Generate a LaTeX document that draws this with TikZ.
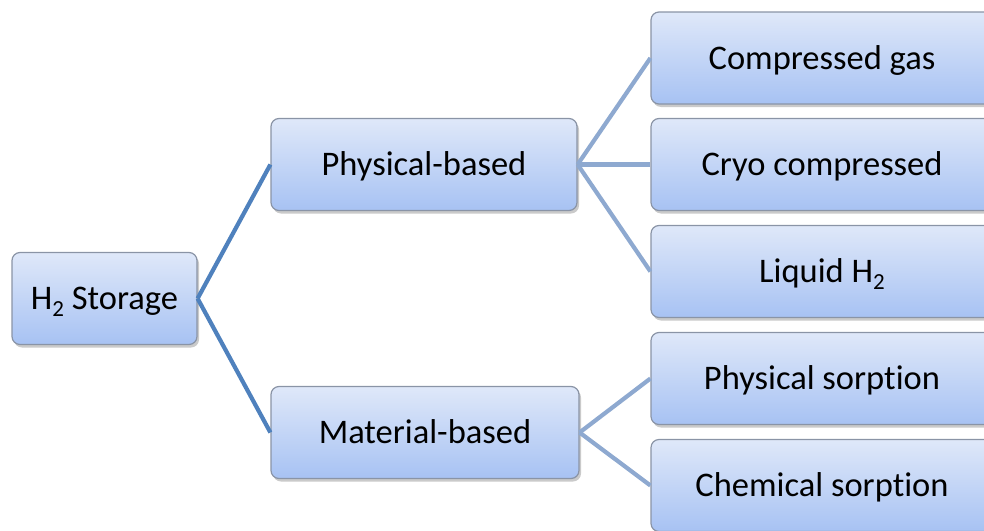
\documentclass[tikz,border=0pt]{standalone}
\usepackage{fontspec}
\setmainfont{Carlito}[Ligatures={NoCommon,NoRequired,NoContextual},Contextuals={NoAlternate}]
\usetikzlibrary{shadows}
\definecolor{boxtop}{HTML}{DFE8F9}
\definecolor{boxbot}{HTML}{A7C2F3}
\definecolor{boxline}{HTML}{8A94A6}
\definecolor{linkdark}{HTML}{4F81BD}
\definecolor{linklight}{HTML}{8EA9D0}
\tikzset{
  box/.style={draw=boxline, line width=1.2pt, rounded corners=8pt,
    top color=boxtop, bottom color=boxbot, inner sep=0pt,
    minimum height=92pt, text height=22pt, text depth=0pt,
    font=\fontsize{34.5}{40}\selectfont, text=black,
    drop shadow={shadow xshift=2pt, shadow yshift=-3pt, opacity=0.35, fill=black!60}},
  rootlink/.style={draw=linkdark, line width=4.2pt},
  leaflink/.style={draw=linklight, line width=4.2pt},
}
% keep "t" and "i" apart in "sorption"
\newcommand{\sorptionword}{sorpt\kern0pt ion}
% hydrogen subscript, set a little lower than \textsubscript
\newcommand{\hsub}{\raisebox{-7pt}{\fontsize{23}{26}\selectfont 2}}
\begin{document}
\begin{tikzpicture}[x=1pt, y=-1pt]
  \useasboundingbox (0,0) rectangle (984,530);
  \clip (0,0) rectangle (984,530);
  % root
  \node[box, minimum width=185pt] (root) at (104.5,298.5) {H\hsub{} Storage};
  % second level
  \node[box, minimum width=306pt] (phys) at (424,164.5) {Physical-based};
  \node[box, minimum width=308pt] (mat) at (425,432.5) {Material-based};
  % leaves
  \node[box, minimum width=342pt] (comp) at (822,58) {Compressed gas};
  \node[box, minimum width=342pt] (cryo) at (822,164.5) {Cryo compressed};
  \node[box, minimum width=342pt] (liq) at (822,271.5) {Liquid H\hsub};
  \node[box, minimum width=342pt] (psorp) at (822,378.5) {Physical \sorptionword};
  \node[box, minimum width=342pt] (csorp) at (822,485.5) {Chemical \sorptionword};
  % connectors
  \draw[rootlink] (root.east) -- (phys.west);
  \draw[rootlink] (root.east) -- (mat.west);
  \draw[leaflink] (phys.east) -- (comp.west);
  \draw[leaflink] (phys.east) -- (cryo.west);
  \draw[leaflink] (phys.east) -- (liq.west);
  \draw[leaflink] (mat.east) -- (psorp.west);
  \draw[leaflink] (mat.east) -- (csorp.west);
\end{tikzpicture}
\end{document}
